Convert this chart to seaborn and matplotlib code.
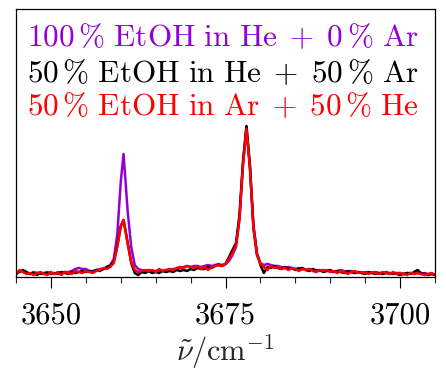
import numpy as np
import pandas as pd
import matplotlib
matplotlib.use("Agg")
import matplotlib.pyplot as plt
import seaborn as sns
from matplotlib.ticker import MultipleLocator, FixedLocator

# ---- data ----
wavenumber = [
    3645.0, 3645.5, 3646.0, 3646.5, 3647.0, 3647.5, 3648.0, 3648.5, 3649.0, 3649.5,
    3650.0, 3650.5, 3651.0, 3651.5, 3652.0, 3652.5, 3653.0, 3653.5, 3654.0, 3654.5,
    3655.0, 3655.5, 3656.0, 3656.5, 3657.0, 3657.5, 3658.0, 3658.5, 3659.0, 3659.5,
    3660.0, 3660.4, 3661.0, 3661.5, 3662.0, 3662.5, 3663.0, 3663.5, 3664.0, 3664.5,
    3665.0, 3665.5, 3666.0, 3666.5, 3667.0, 3667.5, 3668.0, 3668.5, 3669.0, 3669.5,
    3670.0, 3670.5, 3671.0, 3671.5, 3672.0, 3672.5, 3673.0, 3673.5, 3674.0, 3674.5,
    3675.0, 3675.5, 3676.0, 3676.5, 3677.0, 3677.5, 3678.0, 3678.5, 3679.0, 3679.5,
    3680.0, 3680.5, 3681.0, 3681.5, 3682.0, 3682.5, 3683.0, 3683.5, 3684.0, 3684.5,
    3685.0, 3685.5, 3686.0, 3686.5, 3687.0, 3687.5, 3688.0, 3688.5, 3689.0, 3689.5,
    3690.0, 3690.5, 3691.0, 3691.5, 3692.0, 3692.5, 3693.0, 3693.5, 3694.0, 3694.5,
    3695.0, 3695.5, 3696.0, 3696.5, 3697.0, 3697.5, 3698.0, 3698.5, 3699.0, 3699.5,
    3700.0, 3700.5, 3701.0, 3701.5, 3702.0, 3702.5, 3703.0, 3703.5, 3704.0, 3704.5,
    3705.0,
]

etoh_he_100 = [
    4, 6, 6, 4, 3, 5, 4, 3, 4, 5,
    4, 3, 5, 4, 5, 5, 6, 8, 9, 8,
    8, 6, 6, 7, 8, 8, 10, 12, 18, 42,
    95, 123, 65, 30, 12, 8, 7, 6, 7, 6,
    6, 7, 6, 7, 7, 8, 8, 9, 10, 11,
    10, 11, 11, 10, 11, 12, 11, 12, 13, 12,
    13, 16, 22, 30, 58, 112, 150, 108, 48, 22,
    14, 12, 13, 12, 11, 11, 10, 9, 10, 9,
    8, 9, 8, 7, 8, 7, 7, 6, 7, 6,
    6, 5, 6, 7, 6, 5, 6, 5, 5, 4,
    5, 4, 4, 5, 4, 4, 5, 4, 3, 4,
    4, 3, 4, 4, 3, 4, 3, 4, 3, 3,
    3,
]

etoh_he_50 = [
    3, 5, 7, 5, 3, 4, 2, 4, 3, 4,
    3, 4, 3, 5, 4, 3, 5, 4, 5, 6,
    5, 6, 5, 7, 6, 8, 10, 11, 15, 31,
    51, 57, 34, 14, 4, 2, 5, 4, 6, 4,
    5, 4, 6, 5, 6, 5, 7, 6, 7, 6,
    8, 7, 9, 8, 8, 10, 9, 11, 12, 11,
    13, 20, 27, 34, 62, 115, 151, 112, 52, 24,
    12, 4, 10, 9, 11, 9, 8, 10, 8, 9,
    7, 8, 9, 7, 6, 8, 6, 7, 5, 6,
    7, 5, 6, 5, 4, 6, 5, 4, 5, 4,
    3, 5, 4, 3, 4, 3, 4, 3, 4, 3,
    2, 3, 4, 3, 5, 7, 4, 3, 2, 3,
    2,
]

etoh_ar_50 = [
    2, 7, 5, 3, 4, 2, 4, 5, 3, 2,
    5, 3, 4, 2, 5, 4, 3, 6, 5, 4,
    6, 5, 4, 6, 7, 9, 8, 10, 14, 30,
    50, 57, 33, 15, 7, 5, 6, 7, 6, 7,
    5, 8, 6, 7, 8, 7, 9, 10, 9, 11,
    10, 9, 11, 8, 10, 7, 10, 11, 12, 11,
    13, 18, 24, 31, 58, 112, 148, 110, 50, 23,
    13, 10, 7, 11, 9, 10, 8, 9, 7, 9,
    8, 6, 8, 7, 8, 6, 5, 7, 6, 7,
    5, 6, 4, 6, 5, 3, 5, 6, 4, 5,
    4, 3, 5, 4, 3, 5, 4, 3, 5, 3,
    4, 3, 2, 4, 3, 4, 3, 2, 3, 4,
    2,
]

labels = [
    r"$\mathrm{100\,\%\ EtOH\ in\ He\;+\;0\,\%\ Ar}$",
    r"$\mathrm{50\,\%\ EtOH\ in\ He\;+\;50\,\%\ Ar}$",
    r"$\mathrm{50\,\%\ EtOH\ in\ Ar\;+\;50\,\%\ He}$",
]
series_names = ["100% EtOH in He", "50% EtOH in He", "50% EtOH in Ar"]
colors = ["#9400D3", "#000000", "#FF0000"]
x_ticks = [3650, 3675, 3700]

df = pd.concat([
    pd.DataFrame({"wn": wavenumber, "I": vals, "sample": name})
    for name, vals in zip(series_names, [etoh_he_100, etoh_he_50, etoh_ar_50])
], ignore_index=True)

# ---- style ----
sns.set_theme(style="ticks")
plt.rcParams["font.family"] = ["cmr10", "DejaVu Sans"]
plt.rcParams["mathtext.fontset"] = "cm"
plt.rcParams["axes.formatter.use_mathtext"] = True

fig = plt.figure(figsize=(4.46, 3.74), dpi=100)
ax = fig.add_axes([16 / 446, 1 - 277 / 374, (435 - 16) / 446, (277 - 9) / 374])

sns.lineplot(data=df, x="wn", y="I", hue="sample", hue_order=series_names,
             palette=colors, estimator=None, sort=True, linewidth=1.8,
             legend=False, ax=ax)

ax.set_xlim(3645, 3705)
ax.set_ylim(0, 268)
ax.xaxis.set_major_locator(FixedLocator(x_ticks))
ax.xaxis.set_minor_locator(MultipleLocator(5))
ax.set_xticklabels([str(t) for t in x_ticks])
ax.set_yticks([])
ax.tick_params(axis="x", which="major", direction="out", length=8, width=0.8,
               labelsize=22, pad=10, colors="black")
ax.tick_params(axis="x", which="minor", direction="out", length=4, width=0.8)
for s in ax.spines.values():
    s.set_linewidth(0.9)
    s.set_color("black")

ax.set_xlabel(r"$\tilde{\nu}/\mathrm{cm}^{-1}$", fontsize=22, labelpad=2)
ax.set_ylabel("")

for lab, col, yy in zip(labels, colors, [0.862, 0.7276, 0.6045]):
    ax.text(0.495, yy, lab, color=col, fontsize=22.5, ha="center", va="baseline",
            transform=ax.transAxes)

fig.savefig("out.png", dpi=100)
